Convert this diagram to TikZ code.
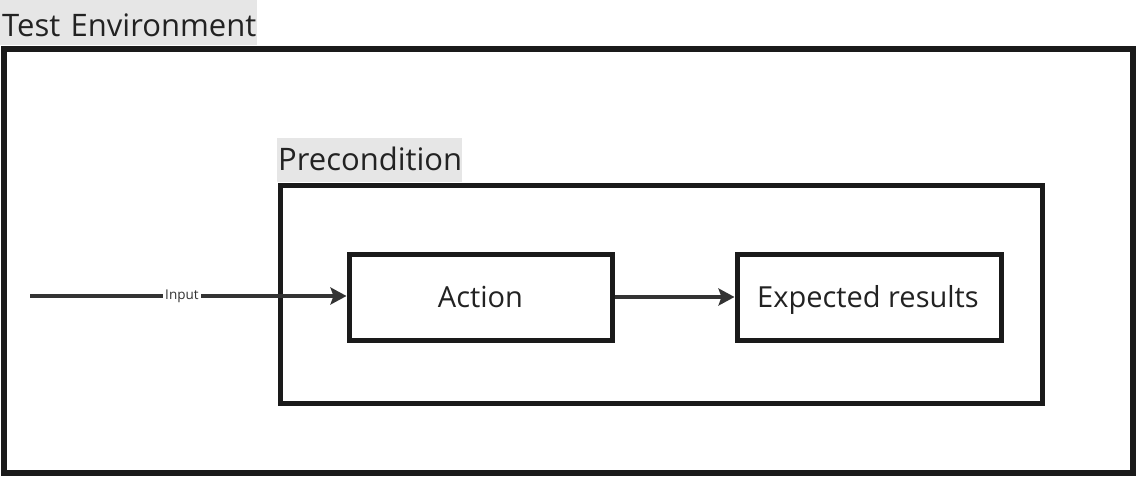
\documentclass[tikz,border=0pt]{standalone}
\usepackage{fontspec}
\setmainfont{Open Sans}
\usetikzlibrary{arrows.meta}
\definecolor{boxline}{HTML}{1A1A1A}
\definecolor{arrowc}{HTML}{333333}
\definecolor{labelbg}{HTML}{E6E6E6}
\definecolor{txt}{HTML}{222222}
\tikzset{
  frame/.style={draw=boxline, line width=#1, fill=none, inner sep=0pt},
  stepbox/.style={draw=boxline, line width=5pt, fill=white, inner sep=0pt, minimum height=86pt},
  steptext/.style={anchor=base, inner sep=0pt, font=\fontsize{29}{34}\selectfont, text=txt},
  tag/.style={fill=labelbg, inner ysep=0pt, anchor=north west, align=left, font=\fontsize{31}{36}\selectfont, text=txt},
  flow/.style={draw=arrowc, line width=4.5pt, -{Stealth[length=16pt,width=17pt,inset=3pt]}},
}
\begin{document}
\begin{tikzpicture}[x=1pt,y=-1pt]
\useasboundingbox (0,0) rectangle (1139,481);
% outer environment
\node[frame=6pt, minimum width=1129pt, minimum height=424pt] (env) at (568.5,261) {};
\node[tag, inner xsep=2pt, text width=253pt, text height=36pt, text depth=9pt] (envlabel) at (0,0) {\mbox{Test Environment}};
% precondition
\node[frame=5pt, minimum width=762pt, minimum height=218pt] (pre) at (661,294) {};
\node[tag, inner xsep=1pt, text width=183pt, text height=32pt, text depth=12pt] (prelabel) at (277,138) {\mbox{Precondition}};
% steps
\node[stepbox, minimum width=263pt] (action) at (480.5,297) {};
\node[stepbox, minimum width=264pt] (expected) at (869,297) {};
\node[steptext] (actiontext) at (480.5,307) {Action};
\node[steptext] (expectedtext) at (868,307) {Expected results};
% connectors
\coordinate (inp) at (30,296);
\draw[flow] (inp) -- node[pos=0.48, fill=white, inner xsep=2pt, inner ysep=1pt, font=\fontsize{13.5}{15}\selectfont, text=arrowc] (inputlabel) {Input} (inp -| action.west);
\draw[flow] (action.east) -- (expected.west);
\end{tikzpicture}
\end{document}
